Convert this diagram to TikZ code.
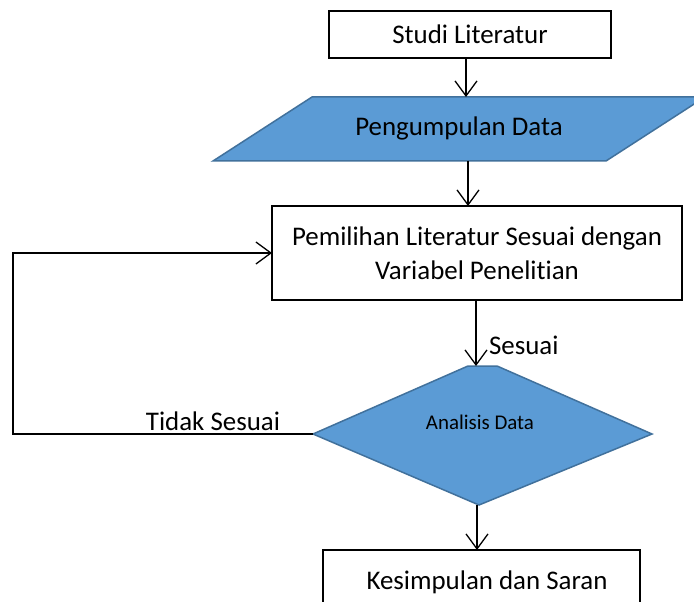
\documentclass[tikz,border=0pt]{standalone}
\usepackage{fontspec}
\setmainfont{Carlito}[Ligatures=NoCommon]
\usetikzlibrary{arrows.meta}
\definecolor{fillblue}{HTML}{5B9BD5}
\definecolor{edgeblue}{HTML}{41719C}
\begin{document}
\begin{tikzpicture}[x=1bp,y=-1bp,
  every node/.style={inner sep=0pt, outer sep=0pt},
  boxnode/.style={draw=black, line width=1.2bp, fill=white, font=\fontsize{27}{34}\selectfont, align=center},
  shapeblue/.style={fill=fillblue, draw=edgeblue, line width=1.5bp},
  lbl/.style={font=\fontsize{27}{30}\selectfont},
  conn/.style={draw=black, line width=1.3bp, -{Straight Barb[length=15bp,width=22bp,line width=1.3bp]}},
  line/.style={draw=black, line width=1.3bp}]
\clip (0,0) rectangle (694,602);
\fill[white] (0,0) rectangle (694,602);

% Studi Literatur
\node[boxnode, minimum width=282bp, minimum height=47bp] (studi) at (470,34.5) {Studi Literatur};

% Pengumpulan Data (parallelogram)
\path[shapeblue] (312,97) -- (705,97) -- (606,161) -- (213,161) -- cycle;
\node[lbl] (pengumpulan) at (459,128) {Pengumpulan Data};
\coordinate (pTop) at (466,97);
\coordinate (pBot) at (468,161);

% Pemilihan box
\node[boxnode, minimum width=410bp, minimum height=94bp] (pemilihan) at (477,253) {Pemilihan Literatur Sesuai dengan\\Variabel Penelitian};

% Diamond
\path[shapeblue] (313,434) -- (468,366) -- (497,366) -- (652,434) -- (479,505) -- cycle;
\node[font=\fontsize{21}{24}\selectfont] (analisis) at (480,422) {Analisis Data};
\coordinate (dTop) at (476,366);
\coordinate (dLeft) at (313,434);
\coordinate (dBot) at (477,505);

% Kesimpulan
\node[boxnode, minimum width=317bp, minimum height=80bp] (kesimpulan) at (481.5,590) {};
\node[lbl] (kestext) at (487,582) {Kesimpulan dan Saran};

% Connectors
\draw[conn] (studi.south -| pTop) -- (pTop);
\draw[conn] (pBot) -- (pBot |- pemilihan.north);
\draw[conn] (pemilihan.south -| dTop) -- (dTop);
\draw[conn] (dBot) -- (dBot |- kesimpulan.north);
\coordinate (fbBL) at (13,434);
\coordinate (fbTL) at (13,253);
\draw[conn] (dLeft) -- (fbBL) -- (fbTL) -- (pemilihan.west);

% Labels
\node[lbl, anchor=west] (sesuai) at (489,345) {Sesuai};
\node[lbl] (tidak) at (213,421) {Tidak Sesuai};
\end{tikzpicture}
\end{document}
